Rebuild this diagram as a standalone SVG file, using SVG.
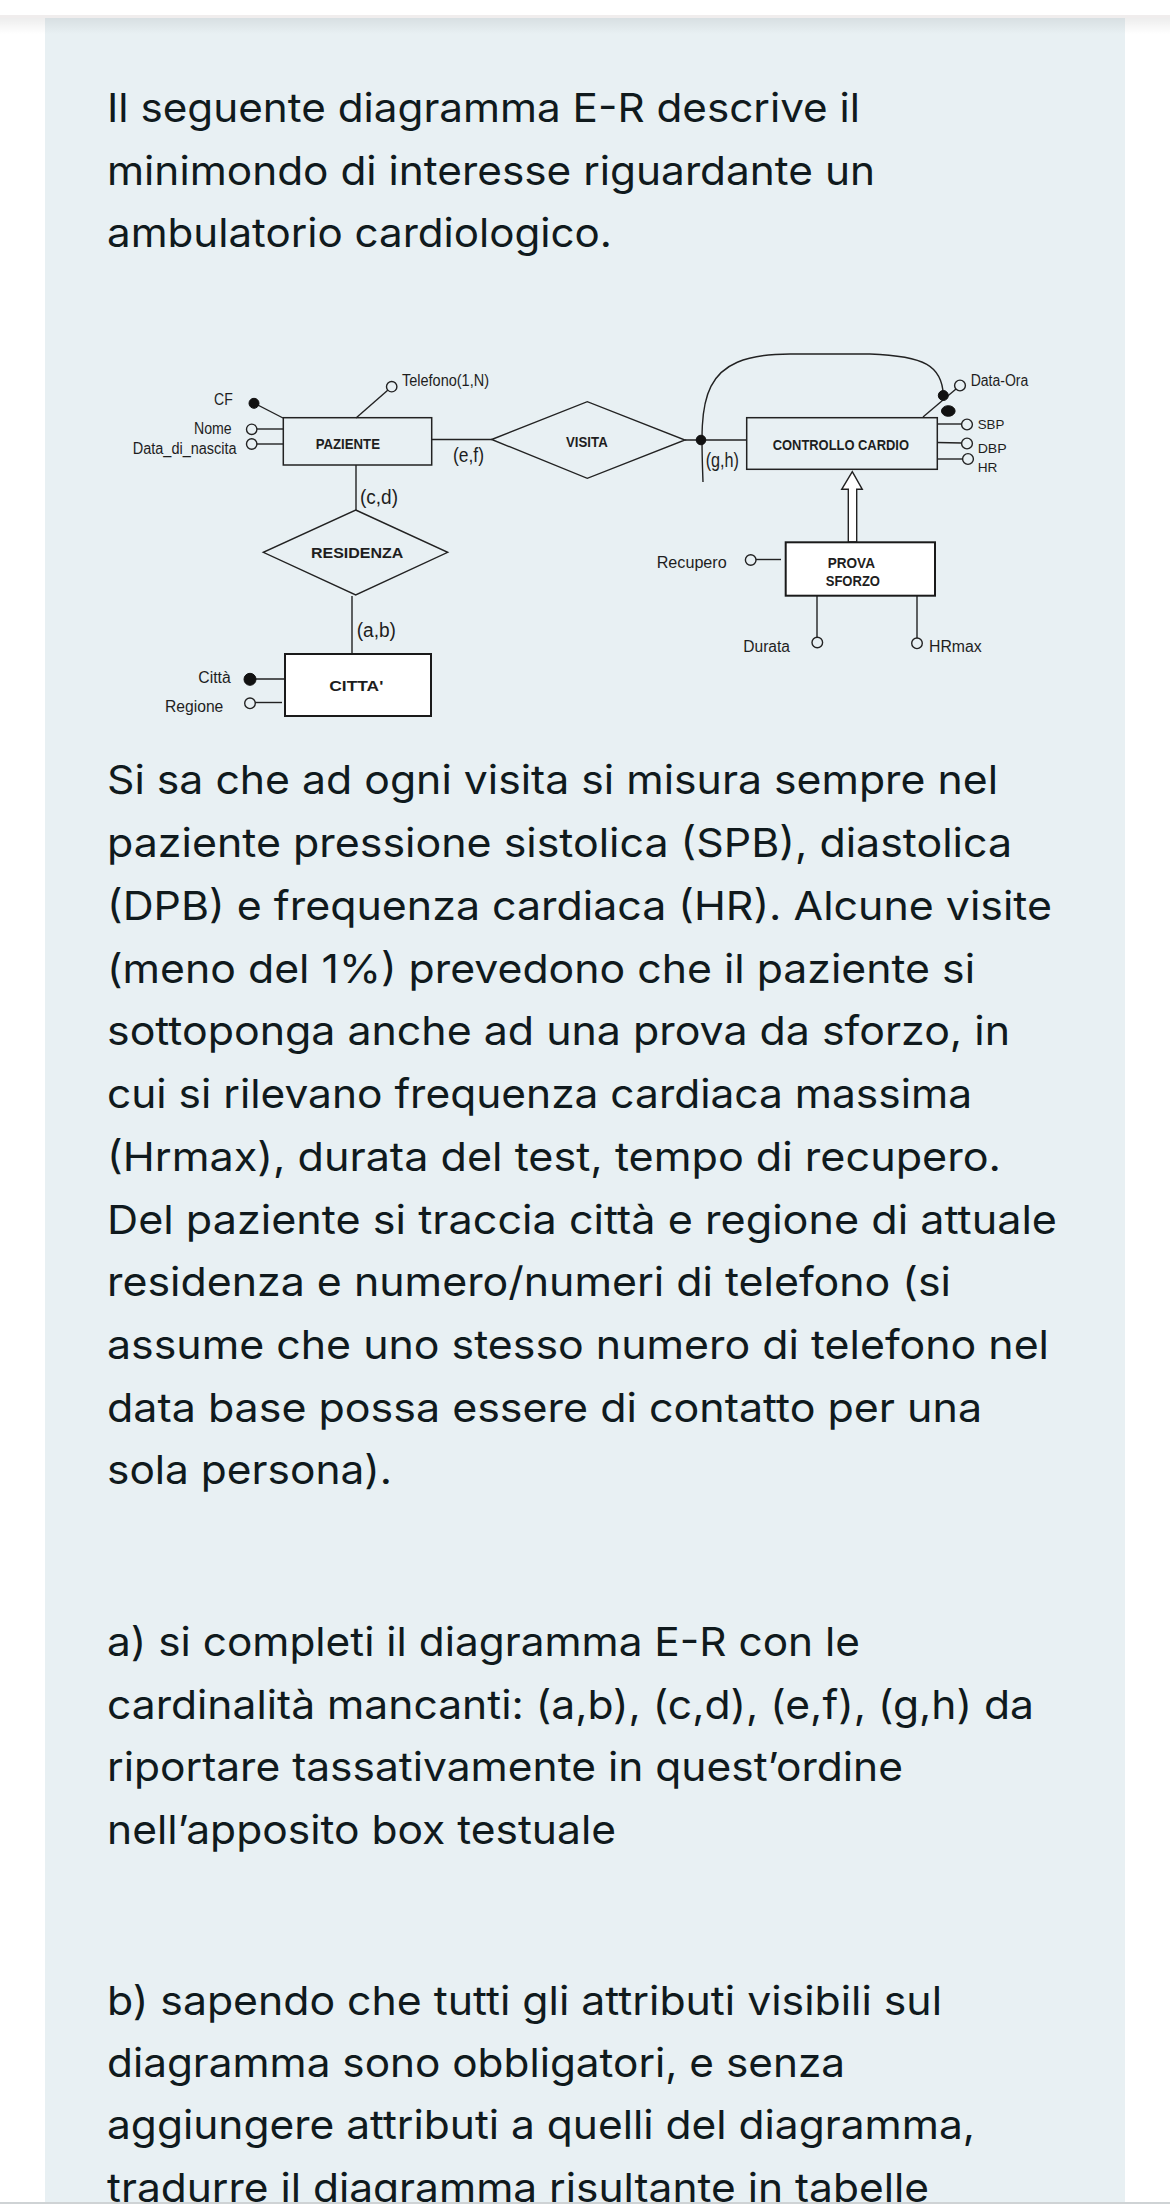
<svg xmlns="http://www.w3.org/2000/svg" width="1170" height="2204" viewBox="0 0 1170 2204">
<defs>
<linearGradient id="topShadow" x1="0" y1="0" x2="0" y2="1">
<stop offset="0" stop-color="#000" stop-opacity="0.07"/>
<stop offset="1" stop-color="#000" stop-opacity="0"/>
</linearGradient>
</defs>
<style>
.p{font-family:Inter,"Noto Sans","Liberation Sans",sans-serif;font-size:40px;fill:#101a1d}
.a{font-family:"Liberation Sans",Arial,sans-serif;font-size:16px;fill:#1e1e1e}
.s{font-family:"Liberation Sans",Arial,sans-serif;font-size:13.5px;fill:#1e1e1e}
.c{font-family:"Liberation Sans",Arial,sans-serif;font-size:20px;fill:#1e1e1e}
.b{font-family:"Liberation Sans",Arial,sans-serif;font-size:15.5px;font-weight:bold;fill:#1e1e1e}
.ln{stroke:#222;stroke-width:1.4;fill:none}
.box{stroke:#222;stroke-width:1.5;fill:none}
.wbox{stroke:#1a1a1a;stroke-width:2;fill:#ffffff}
.dia{stroke:#222;stroke-width:1.4;fill:none}
.oc{stroke:#222;stroke-width:1.4;fill:#e8f0f3}
.fc{fill:#111;stroke:#111;stroke-width:1}
</style>
<rect x="0" y="0" width="1170" height="2204" fill="#ffffff"/>
<rect x="45" y="18" width="1080" height="2186" fill="#e8f0f3"/>
<rect x="0" y="15" width="1170" height="3" fill="#f0eded"/>
<rect x="0" y="18" width="1170" height="16" fill="url(#topShadow)"/>

<g id="intro">
<text class="p" x="107" y="122" textLength="753" lengthAdjust="spacingAndGlyphs">Il seguente diagramma E-R descrive il</text>
<text class="p" x="107" y="184.5" textLength="768" lengthAdjust="spacingAndGlyphs">minimondo di interesse riguardante un</text>
<text class="p" x="107" y="247" textLength="505" lengthAdjust="spacingAndGlyphs">ambulatorio cardiologico.</text>
</g>

<g id="connectors">
<line class="ln" x1="254" y1="403" x2="283" y2="418"/>
<line class="ln" x1="257" y1="429" x2="283" y2="429"/>
<line class="ln" x1="257" y1="444" x2="283" y2="444"/>
<line class="ln" x1="356" y1="418" x2="388" y2="390"/>
<line class="ln" x1="432" y1="439.5" x2="492" y2="439.5"/>
<line class="ln" x1="356" y1="465" x2="356" y2="510"/>
<line class="ln" x1="352" y1="596" x2="352" y2="654"/>
<line class="ln" x1="250" y1="679" x2="285" y2="679"/>
<line class="ln" x1="255" y1="702.5" x2="282" y2="702.5"/>
<line class="ln" x1="685" y1="440" x2="747" y2="440"/>
<path class="ln" d="M703,482 C700,400 697,354 790,354 L870,354 C925,356 942,366 943.3,395"/>
<line class="ln" x1="923" y1="417" x2="956" y2="389"/>
<line class="ln" x1="937" y1="424" x2="962" y2="424"/>
<line class="ln" x1="937" y1="442.5" x2="962" y2="443"/>
<line class="ln" x1="937" y1="459" x2="963" y2="459"/>
<line class="ln" x1="756" y1="559.5" x2="781" y2="559.5"/>
<line class="ln" x1="817" y1="596" x2="817" y2="637"/>
<line class="ln" x1="917" y1="596" x2="917" y2="638"/>
<polygon points="848.3,542 848.3,489.3 841.7,489.3 852.3,471.7 862.3,489.3 856.7,489.3 856.7,542" fill="#ffffff" stroke="#222" stroke-width="1.4"/>
<circle class="fc" cx="701" cy="440" r="4.8"/>
<circle class="fc" cx="943.3" cy="395.5" r="5"/>
<ellipse class="fc" cx="948.3" cy="411" rx="6.8" ry="5.3"/>
<text class="c" x="453" y="462" textLength="31" lengthAdjust="spacingAndGlyphs">(e,f)</text>
<text class="c" x="360" y="504" textLength="38" lengthAdjust="spacingAndGlyphs">(c,d)</text>
<text class="c" x="356.7" y="637.3" textLength="39.3" lengthAdjust="spacingAndGlyphs">(a,b)</text>
<text class="c" x="705.7" y="466.5" font-size="18" textLength="33.3" lengthAdjust="spacingAndGlyphs">(g,h)</text>
</g>

<g id="paziente">
<rect class="box" x="283.3" y="417.7" width="148.4" height="47.3"/>
<text class="b" x="315.7" y="448.7" textLength="64.3" lengthAdjust="spacingAndGlyphs">PAZIENTE</text>
<circle class="fc" cx="254" cy="403.3" r="5"/>
<text class="a" x="214" y="405" textLength="18.7" lengthAdjust="spacingAndGlyphs">CF</text>
<circle class="oc" cx="251.7" cy="429.3" r="5.2"/>
<text class="a" x="194" y="434" font-size="15" textLength="37.7" lengthAdjust="spacingAndGlyphs">Nome</text>
<circle class="oc" cx="251.7" cy="444" r="5.2"/>
<text class="a" x="132.7" y="454" font-size="15.5" textLength="104" lengthAdjust="spacingAndGlyphs">Data_di_nascita</text>
<circle class="oc" cx="391.7" cy="386.7" r="5.2"/>
<text class="a" x="402" y="386" textLength="87" lengthAdjust="spacingAndGlyphs">Telefono(1,N)</text>
</g>

<g id="residenza">
<polygon class="dia" points="355.7,510 447.7,552.3 355.7,595 263.3,552.3"/>
<text class="b" x="311" y="558.3" font-size="16" textLength="92.3" lengthAdjust="spacingAndGlyphs">RESIDENZA</text>
</g>

<g id="citta">
<rect class="wbox" x="285" y="654" width="146" height="62"/>
<text class="b" x="329.3" y="690.7" font-size="18.5" textLength="54" lengthAdjust="spacingAndGlyphs">CITTA'</text>
<circle class="fc" cx="250" cy="679.3" r="6"/>
<text class="a" x="198.3" y="683.3" textLength="32.4" lengthAdjust="spacingAndGlyphs">Città</text>
<circle class="oc" cx="250" cy="703.3" r="5.3"/>
<text class="a" x="165" y="711.7" textLength="58.3" lengthAdjust="spacingAndGlyphs">Regione</text>
</g>

<g id="visita">
<polygon class="dia" points="491.7,439.5 587.3,401.7 685,440 587.3,478.3"/>
<text class="b" x="566" y="447.3" font-size="15" textLength="41.7" lengthAdjust="spacingAndGlyphs">VISITA</text>
</g>

<g id="controllo-cardio">
<rect class="box" x="746.7" y="417.7" width="190.6" height="51.6"/>
<text class="b" x="772.7" y="450" font-size="15" textLength="136.3" lengthAdjust="spacingAndGlyphs">CONTROLLO CARDIO</text>
<circle class="oc" cx="960" cy="385.5" r="5.4"/>
<text class="a" x="970.7" y="386" textLength="57.6" lengthAdjust="spacingAndGlyphs">Data-Ora</text>
<circle class="oc" cx="967" cy="424.5" r="5.4"/>
<text class="s" x="977.7" y="429" textLength="26.7" lengthAdjust="spacingAndGlyphs">SBP</text>
<circle class="oc" cx="967" cy="443.5" r="5.4"/>
<text class="s" x="977.7" y="453.3" textLength="29" lengthAdjust="spacingAndGlyphs">DBP</text>
<circle class="oc" cx="968" cy="459" r="5.4"/>
<text class="s" x="977.7" y="471.7" textLength="19.7" lengthAdjust="spacingAndGlyphs">HR</text>
</g>

<g id="prova-sforzo">
<rect class="wbox" x="785.7" y="542.3" width="149.3" height="53.4"/>
<text class="b" x="827.7" y="567.7" font-size="15" textLength="47.3" lengthAdjust="spacingAndGlyphs">PROVA</text>
<text class="b" x="825.7" y="585.7" font-size="15" textLength="54.3" lengthAdjust="spacingAndGlyphs">SFORZO</text>
<circle class="oc" cx="750.7" cy="560" r="5.3"/>
<text class="a" x="656.7" y="567.7" textLength="70" lengthAdjust="spacingAndGlyphs">Recupero</text>
<circle class="oc" cx="817.3" cy="642.5" r="5.3"/>
<text class="a" x="743.3" y="651.7" textLength="46.7" lengthAdjust="spacingAndGlyphs">Durata</text>
<circle class="oc" cx="917" cy="643.3" r="5.3"/>
<text class="a" x="929" y="652.3" textLength="52.7" lengthAdjust="spacingAndGlyphs">HRmax</text>
</g>

<g id="description">
<text class="p" x="107" y="794" textLength="891" lengthAdjust="spacingAndGlyphs">Si sa che ad ogni visita si misura sempre nel</text>
<text class="p" x="107" y="857" textLength="905" lengthAdjust="spacingAndGlyphs">paziente pressione sistolica (SPB), diastolica</text>
<text class="p" x="107" y="920" textLength="945" lengthAdjust="spacingAndGlyphs">(DPB) e frequenza cardiaca (HR). Alcune visite</text>
<text class="p" x="107" y="982.5" textLength="868" lengthAdjust="spacingAndGlyphs">(meno del 1%) prevedono che il paziente si</text>
<text class="p" x="107" y="1045" textLength="903" lengthAdjust="spacingAndGlyphs">sottoponga anche ad una prova da sforzo, in</text>
<text class="p" x="107" y="1108" textLength="865" lengthAdjust="spacingAndGlyphs">cui si rilevano frequenza cardiaca massima</text>
<text class="p" x="107" y="1171" textLength="894" lengthAdjust="spacingAndGlyphs">(Hrmax), durata del test, tempo di recupero.</text>
<text class="p" x="107" y="1233.5" textLength="950" lengthAdjust="spacingAndGlyphs">Del paziente si traccia città e regione di attuale</text>
<text class="p" x="107" y="1296" textLength="844" lengthAdjust="spacingAndGlyphs">residenza e numero/numeri di telefono (si</text>
<text class="p" x="107" y="1358.5" textLength="942" lengthAdjust="spacingAndGlyphs">assume che uno stesso numero di telefono nel</text>
<text class="p" x="107" y="1421.5" textLength="875" lengthAdjust="spacingAndGlyphs">data base possa essere di contatto per una</text>
<text class="p" x="107" y="1483.5" textLength="285" lengthAdjust="spacingAndGlyphs">sola persona).</text>
</g>

<g id="question-a">
<text class="p" x="107" y="1656" textLength="753" lengthAdjust="spacingAndGlyphs">a) si completi il diagramma E-R con le</text>
<text class="p" x="107" y="1719" textLength="927" lengthAdjust="spacingAndGlyphs">cardinalità mancanti: (a,b), (c,d), (e,f), (g,h) da</text>
<text class="p" x="107" y="1781" textLength="796" lengthAdjust="spacingAndGlyphs">riportare tassativamente in quest’ordine</text>
<text class="p" x="107" y="1844" textLength="509" lengthAdjust="spacingAndGlyphs">nell’apposito box testuale</text>
</g>

<g id="question-b">
<text class="p" x="107" y="2015" textLength="835" lengthAdjust="spacingAndGlyphs">b) sapendo che tutti gli attributi visibili sul</text>
<text class="p" x="107" y="2077" textLength="738" lengthAdjust="spacingAndGlyphs">diagramma sono obbligatori, e senza</text>
<text class="p" x="107" y="2139" textLength="868" lengthAdjust="spacingAndGlyphs">aggiungere attributi a quelli del diagramma,</text>
<text class="p" x="107" y="2201.5" textLength="822" lengthAdjust="spacingAndGlyphs">tradurre il diagramma risultante in tabelle</text>
</g>
<rect x="0" y="2202" width="1170" height="2" fill="#cfd3d5"/>
</svg>
